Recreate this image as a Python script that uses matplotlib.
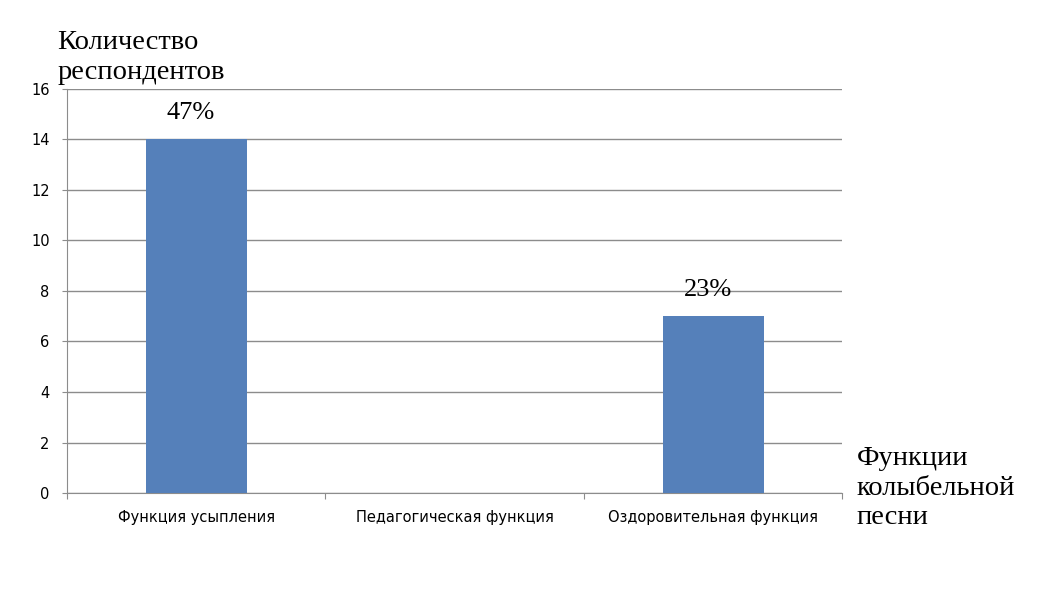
import matplotlib.pyplot as plt
import numpy as np

categories = ['Функция усыпления', 'Педагогическая функция', 'Оздоровительная функция']
counts = [14, 0, 7]
pct_labels = ['47%', '', '23%']
yticks = [0, 2, 4, 6, 8, 10, 12, 14, 16]

fig = plt.figure(figsize=(10.58, 6.08), dpi=100)
ax = fig.add_axes([0.0633, 0.189, 0.733, 0.665])

x = np.arange(len(categories))
ax.bar(x, counts, width=0.39, color='#5580BA', zorder=3)

ax.set_xlim(-0.5, 2.5)
ax.set_ylim(0, 16)
ax.set_yticks(yticks)
ax.set_yticklabels([str(v) for v in yticks], fontsize=10.5)
ax.yaxis.grid(True, color='#8c8c8c', linewidth=1, zorder=0)

# category boundaries as major ticks, names on minor ticks
ax.set_xticks([-0.5, 0.5, 1.5, 2.5], minor=False)
ax.set_xticklabels([])
ax.set_xticks(x, minor=True)
ax.set_xticklabels(categories, minor=True, fontsize=10.5)
ax.tick_params(axis='x', which='minor', length=0, pad=12.5)
ax.tick_params(axis='x', which='major', length=4, color='#8c8c8c')
ax.tick_params(axis='y', length=3.5, color='#8c8c8c', pad=9)

for s in ['top', 'right']:
    ax.spines[s].set_visible(False)
for s in ['left', 'bottom']:
    ax.spines[s].set_color('#8c8c8c')

for xi, c, lab in zip(x, counts, pct_labels):
    if lab:
        ax.text(xi - 0.02, c + 1.05, lab, ha='center', va='center',
                fontsize=19, family='Liberation Serif', zorder=4)

fig.text(0.054, 0.905, 'Количество\nреспондентов', ha='left', va='center',
         fontsize=20.5, family='Liberation Serif', linespacing=1.25)
fig.text(0.81, 0.197, 'Функции\nколыбельной\nпесни', ha='left', va='center',
         fontsize=20.5, family='Liberation Serif', linespacing=1.25)

fig.savefig('out.png', dpi=100)
